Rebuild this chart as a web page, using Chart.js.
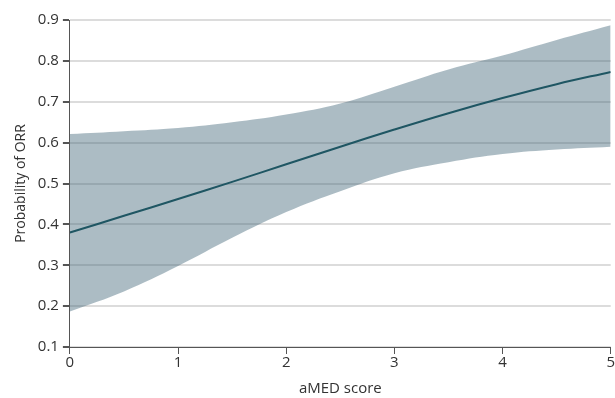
<!DOCTYPE html>
<html>
<head>
<meta charset="utf-8">
<script src="https://cdn.jsdelivr.net/npm/chart.js@4"></script>
<style>
    html, body { margin: 0; padding: 0; background: #fff; }
    #wrap { width: 615px; height: 398px; }
</style>
</head>
<body>
<div id="wrap"><canvas id="ormChart"></canvas></div>
<script>
// aMED score sampled every half point
const scores = [0, 0.5, 1, 1.5, 2, 2.5, 3, 3.5, 4, 4.5, 5];
const probability = [0.380, 0.421, 0.462, 0.504, 0.547, 0.590, 0.632, 0.672, 0.709, 0.743, 0.773];
const upperCI = [0.621, 0.628, 0.636, 0.650, 0.669, 0.696, 0.737, 0.779, 0.813, 0.851, 0.887];
const lowerCI = [0.187, 0.236, 0.298, 0.367, 0.430, 0.481, 0.525, 0.552, 0.572, 0.583, 0.590];
const yTicks = [0.1, 0.2, 0.3, 0.4, 0.5, 0.6, 0.7, 0.8, 0.9];

const toPoints = vals => scores.map((x, i) => ({ x: x, y: vals[i] }));
const tickFont = { family: "'Open Sans'", size: 15 };

new Chart(document.getElementById('ormChart'), {
    type: 'line',
    data: {
        datasets: [{
            label: 'Probability',
            data: toPoints(probability),
            borderColor: '#1f5663',
            borderWidth: 2,
            pointRadius: 0,
            tension: 0.4,
            fill: false
        }, {
            label: 'Upper',
            data: toPoints(upperCI),
            borderWidth: 0,
            borderColor: 'rgba(0,0,0,0)',
            backgroundColor: 'rgba(62,99,118,0.43)', // see-through so the grid shows
            pointRadius: 0,
            tension: 0.4,
            fill: '+1'
        }, {
            label: 'Lower',
            data: toPoints(lowerCI),
            borderWidth: 0,
            borderColor: 'rgba(0,0,0,0)',
            pointRadius: 0,
            tension: 0.4,
            fill: false
        }]
    },
    options: {
        responsive: true,
        maintainAspectRatio: false,
        animation: false,
        layout: { padding: { left: 4, top: 20, bottom: 0, right: -3 } },
        plugins: {
            legend: { display: false },
            tooltip: { enabled: false }
        },
        scales: {
            x: {
                type: 'linear',
                min: 0,
                max: 5,
                ticks: { stepSize: 1, color: '#333', font: tickFont, padding: 0 },
                grid: { drawOnChartArea: false, tickLength: 7, tickColor: '#555' },
                border: { color: '#555', width: 1 },
                title: { display: true, text: 'aMED score', color: '#333', font: { family: "'Open Sans'", size: 15 }, padding: { top: 8, bottom: 0 } }
            },
            y: {
                min: 0.1,
                max: 0.9,
                afterBuildTicks: axis => { axis.ticks = yTicks.map(v => ({ value: v })); },
                ticks: { color: '#333', font: tickFont, padding: 4, callback: v => v.toFixed(1) },
                grid: { color: '#dcdcdc', lineWidth: 2, tickLength: 7, tickColor: '#555' },
                border: { color: '#555', width: 1 },
                title: { display: true, text: 'Probability of ORR', color: '#333', font: { family: "'Open Sans'", size: 14 }, padding: { top: 9, bottom: 4 } }
            }
        }
    }
});
</script>
</body>
</html>
